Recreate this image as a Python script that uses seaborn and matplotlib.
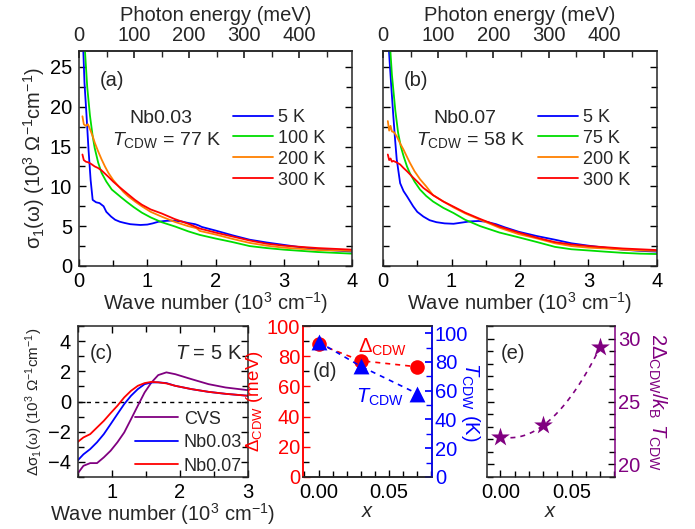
import numpy as np
import matplotlib
matplotlib.use("Agg")
import matplotlib.pyplot as plt
from matplotlib.ticker import MultipleLocator, FixedLocator
import seaborn as sns

# ---------------- data ----------------
# Panel (a): Nb0.03, sigma_1 (10^3 Ohm^-1 cm^-1) vs wave number (10^3 cm^-1)
a5_x = [0.05, 0.08, 0.11, 0.14, 0.17, 0.2, 0.25, 0.3, 0.36, 0.4, 0.47, 0.53, 0.6, 0.67, 0.75,
        0.82, 0.9, 1.0, 1.08, 1.16, 1.25, 1.35, 1.5, 1.6, 1.7, 1.75, 1.8, 2.0, 2.25, 2.5, 2.75,
        3.0, 3.25, 3.5, 3.75, 4.0]
a5_y = [30.0, 23.0, 18.9, 14.5, 10.8, 8.3, 8.0, 7.9, 7.5, 6.8, 6.2, 5.8, 5.55, 5.4, 5.25,
        5.2, 5.15, 5.2, 5.35, 5.55, 5.65, 5.7, 5.6, 5.4, 5.25, 5.1, 4.9, 4.45, 3.85, 3.3, 2.95,
        2.65, 2.35, 2.1, 1.95, 1.8]
a100_x = [0.08, 0.12, 0.16, 0.2, 0.23, 0.28, 0.33, 0.4, 0.48, 0.55, 0.62, 0.7, 0.8, 0.92, 1.05,
          1.21, 1.41, 1.6, 1.77, 2.0, 2.25, 2.5, 2.75, 3.0, 3.25, 3.5, 3.75, 4.0]
a100_y = [28.0, 22.5, 18.9, 16.3, 14.8, 13.0, 11.7, 10.6, 9.6, 9.1, 8.6, 8.05, 7.4, 6.7, 6.1,
          5.5, 4.95, 4.35, 3.9, 3.45, 3.0, 2.5, 2.25, 2.05, 1.9, 1.75, 1.65, 1.55]
a200_x = [0.05, 0.07, 0.1, 0.13, 0.16, 0.2, 0.23, 0.28, 0.33, 0.38, 0.43, 0.5, 0.58, 0.65, 0.72,
          0.82, 0.92, 1.05, 1.21, 1.4, 1.6, 1.72, 1.77, 2.0, 2.25, 2.5, 2.75, 3.0, 3.25, 3.5,
          3.75, 4.0]
a200_y = [18.8, 17.8, 17.6, 17.8, 17.2, 16.3, 15.5, 14.4, 13.4, 12.5, 11.7, 10.8, 10.0, 9.3, 8.75,
          8.1, 7.5, 6.8, 6.2, 5.55, 5.0, 4.75, 4.4, 3.95, 3.4, 2.9, 2.55, 2.3, 2.15, 2.0,
          1.95, 1.9]
a300_x = [0.05, 0.07, 0.1, 0.14, 0.18, 0.23, 0.28, 0.33, 0.38, 0.43, 0.5, 0.58, 0.65, 0.72, 0.82,
          0.92, 1.05, 1.21, 1.4, 1.6, 1.77, 2.0, 2.25, 2.5, 2.75, 3.0, 3.25, 3.5, 3.75, 4.0]
a300_y = [14.0, 13.3, 13.1, 13.0, 12.8, 12.5, 12.3, 12.0, 11.6, 11.2, 10.6, 10.0, 9.5, 9.0, 8.3,
          7.7, 7.1, 6.6, 5.9, 5.3, 4.7, 4.2, 3.7, 3.2, 2.8, 2.55, 2.4, 2.25, 2.15, 2.05]

# Panel (b): Nb0.07
b5_x = [0.08, 0.1, 0.125, 0.15, 0.175, 0.2, 0.25, 0.3, 0.35, 0.44, 0.5, 0.59, 0.68, 0.78, 0.9,
        1.03, 1.15, 1.27, 1.4, 1.51, 1.65, 1.78, 1.98, 2.25, 2.51, 2.75, 3.0, 3.24, 3.5, 3.75, 4.0]
b5_y = [28.0, 25.2, 22.0, 18.9, 16.0, 13.4, 10.4, 9.4, 8.75, 7.5, 6.8, 6.2, 5.75, 5.5, 5.35,
        5.3, 5.45, 5.6, 5.65, 5.55, 5.25, 4.85, 4.3, 3.75, 3.3, 2.85, 2.55, 2.3, 2.05, 1.9, 1.8]
b75_x = [0.1, 0.13, 0.15, 0.18, 0.22, 0.26, 0.3, 0.35, 0.39, 0.46, 0.54, 0.63, 0.73, 0.88, 1.03,
         1.2, 1.42, 1.7, 1.98, 2.25, 2.51, 2.75, 3.0, 3.24, 3.5, 3.75, 4.0]
b75_y = [28.0, 24.0, 22.2, 19.5, 16.75, 15.0, 13.8, 12.5, 11.7, 10.6, 9.6, 8.8, 8.1, 7.3, 6.65,
         5.8, 5.0, 4.2, 3.6, 3.0, 2.4, 2.1, 1.95, 1.8, 1.65, 1.55, 1.5]
b200_x = [0.07, 0.09, 0.11, 0.13, 0.16, 0.2, 0.25, 0.3, 0.35, 0.39, 0.46, 0.54, 0.63, 0.73, 0.88,
          1.03, 1.2, 1.42, 1.7, 1.98, 2.25, 2.51, 2.75, 3.0, 3.24, 3.5, 3.75, 4.0]
b200_y = [18.2, 17.0, 17.6, 16.9, 16.8, 16.3, 15.4, 14.6, 13.7, 13.0, 11.9, 10.9, 10.0, 8.9, 8.1,
          7.35, 6.6, 5.8, 4.8, 4.0, 3.45, 2.85, 2.5, 2.3, 2.2, 2.05, 1.95, 1.9]
b300_x = [0.07, 0.09, 0.11, 0.13, 0.15, 0.2, 0.25, 0.3, 0.35, 0.44, 0.5, 0.59, 0.73, 0.88, 1.03,
          1.2, 1.42, 1.7, 1.98, 2.25, 2.51, 2.75, 3.0, 3.24, 3.5, 3.75, 4.0]
b300_y = [14.0, 13.3, 13.5, 13.1, 13.2, 13.0, 12.75, 12.3, 11.9, 11.1, 10.6, 9.8, 8.9, 8.1, 7.45,
          6.7, 5.9, 4.95, 4.2, 3.55, 3.0, 2.7, 2.5, 2.36, 2.2, 2.1, 2.0]

# Panel (c): delta sigma_1 at 5 K
c_x = [0.49, 0.58, 0.68, 0.78, 0.88, 0.98, 1.08, 1.18, 1.28, 1.38, 1.48, 1.58, 1.68, 1.8, 1.93,
       2.17, 2.42, 2.67, 3.0]
c_cvs = [-4.8, -4.26, -4.08, -4.08, -3.7, -3.26, -2.7, -2.05, -1.17, -0.28, 0.6, 1.26, 1.75, 1.93,
         1.81, 1.48, 1.15, 0.93, 0.75]
c_nb03 = [-3.93, -3.5, -3.15, -2.7, -2.16, -1.5, -0.83, -0.17, 0.38, 0.82, 1.15, 1.26, 1.27, 1.22,
          1.04, 0.82, 0.64, 0.51, 0.38]
c_nb07 = [-2.7, -2.38, -2.16, -1.72, -1.28, -0.77, -0.28, 0.27, 0.71, 1.04, 1.22, 1.3, 1.27, 1.2,
          1.04, 0.82, 0.64, 0.51, 0.38]

# Panels (d), (e)
x_dope = [0.0, 0.03, 0.07]
gap_mev = [88.0, 77.0, 73.0]
tcdw_k = [94.0, 77.0, 58.0]
ratio = [22.2, 23.1, 29.3]

# ---------------- style ----------------
sns.set_theme(style="ticks")
plt.rcParams["font.family"] = ["Liberation Sans", "DejaVu Sans"]
plt.rcParams["mathtext.fontset"] = "custom"
plt.rcParams["mathtext.rm"] = "Liberation Sans"
plt.rcParams["mathtext.it"] = "Liberation Sans:italic"
plt.rcParams["mathtext.bf"] = "Liberation Sans:bold"
plt.rcParams["axes.linewidth"] = 1.1
FS = 14.5    # tick labels, axis labels
FL = 13      # legends / in-panel text

BLUE, GREEN, ORANGE, RED, PURPLE = "#0000ff", "#00dd00", "#ff8000", "#ff0000", "#800080"

fig = plt.figure(figsize=(6.95, 5.29), dpi=100)
ax_a = fig.add_axes([0.1137, 0.4972, 0.3928, 0.4064])
ax_b = fig.add_axes([0.5511, 0.4972, 0.3942, 0.4064])
ax_c = fig.add_axes([0.1122, 0.0983, 0.2446, 0.2854])
ax_d = fig.add_axes([0.4360, 0.0983, 0.1856, 0.2854])
ax_e = fig.add_axes([0.7007, 0.0983, 0.1842, 0.2854])


def cm2mev(x):
    return np.asarray(x) * 1000.0 / 8.0655


def mev2cm(e):
    return np.asarray(e) * 8.0655 / 1000.0


def style_ticks(ax, top=True, right=True):
    ax.tick_params(which="both", direction="in", top=top, right=right,
                   labelsize=FS, width=1.0, colors="black")
    ax.tick_params(which="major", length=5, pad=5)
    ax.tick_params(which="minor", length=4)
    ax.tick_params(axis="x", which="major", pad=4)


def right_label(ax, text, color, xpos):
    ax.set_ylabel(text, fontsize=FS, color=color)
    ax.yaxis.set_label_coords(xpos, 0.497)
    ax.yaxis.label.set_rotation(270)
    ax.yaxis.label.set_rotation_mode("default")
    ax.yaxis.label.set_horizontalalignment("center")
    ax.yaxis.label.set_verticalalignment("center")


def spectra_panel(ax, series, label, sample, tcdw, ylabels=True):
    for (xs, ys, c, lab) in series:
        sns.lineplot(x=xs, y=ys, ax=ax, color=c, lw=1.3, label=lab, sort=False)
    ax.set_xlim(0, 4)
    ax.set_ylim(0, 27)
    ax.xaxis.set_major_locator(MultipleLocator(1))
    ax.xaxis.set_minor_locator(MultipleLocator(0.5))
    ax.yaxis.set_major_locator(MultipleLocator(5))
    ax.yaxis.set_minor_locator(MultipleLocator(2.5))
    style_ticks(ax, top=False, right=True)
    if not ylabels:
        ax.tick_params(axis="y", labelleft=False)
    ax.set_xlabel(r"Wave number (10$^3$ cm$^{-1}$)", fontsize=FS, labelpad=0)
    sec = ax.secondary_xaxis("top", functions=(cm2mev, mev2cm))
    sec.set_xticks([0, 100, 200, 300, 400])
    sec.xaxis.set_minor_locator(MultipleLocator(50))
    sec.tick_params(which="both", direction="in", labelsize=FS, pad=4)
    sec.tick_params(which="major", length=5)
    sec.tick_params(which="minor", length=4)
    sec.set_xlabel("Photon energy (meV)", fontsize=FS, labelpad=4)
    leg = ax.legend(loc="upper left", bbox_to_anchor=(0.565, 0.731), frameon=False,
                    fontsize=FL, handlelength=2.2, handletextpad=0.3, labelspacing=0.22,
                    borderpad=0, borderaxespad=0)
    for l in leg.get_lines():
        l.set_linewidth(1.3)
    ax.text(0.12, 0.865, label, transform=ax.transAxes, fontsize=FS, ha="center", va="center")
    ax.text(0.30, 0.685, sample, transform=ax.transAxes, fontsize=FL + 1, ha="center", va="center")
    ax.text(0.32, 0.585, r"$\mathit{T}_{\mathrm{CDW}}$ = " + tcdw, transform=ax.transAxes,
            fontsize=FL + 1, ha="center", va="center")


spectra_panel(ax_a, [(a5_x, a5_y, BLUE, "5 K"), (a100_x, a100_y, GREEN, "100 K"),
                     (a200_x, a200_y, ORANGE, "200 K"), (a300_x, a300_y, RED, "300 K")],
              "(a)", "Nb0.03", "77 K", ylabels=True)
ax_a.set_ylabel("σ$_1$(ω) (10$^3$ Ω$^{-1}$cm$^{-1}$)", fontsize=FS, labelpad=2)
spectra_panel(ax_b, [(b5_x, b5_y, BLUE, "5 K"), (b75_x, b75_y, GREEN, "75 K"),
                     (b200_x, b200_y, ORANGE, "200 K"), (b300_x, b300_y, RED, "300 K")],
              "(b)", "Nb0.07", "58 K", ylabels=False)
ax_b.set_ylabel("")

# ---------------- panel (c) ----------------
ax_c.axhline(0, color="black", lw=1.0, ls=(0, (3, 3)))
sns.lineplot(x=c_x, y=c_cvs, ax=ax_c, color=PURPLE, lw=1.3, label="CVS", sort=False)
sns.lineplot(x=c_x, y=c_nb03, ax=ax_c, color=BLUE, lw=1.3, label="Nb0.03", sort=False)
sns.lineplot(x=c_x, y=c_nb07, ax=ax_c, color=RED, lw=1.3, label="Nb0.07", sort=False)
ax_c.set_xlim(0.5, 3)
ax_c.set_ylim(-5, 5)
ax_c.xaxis.set_major_locator(MultipleLocator(1))
ax_c.xaxis.set_minor_locator(MultipleLocator(0.5))
ax_c.yaxis.set_major_locator(FixedLocator([-4, -2, 0, 2, 4]))
ax_c.yaxis.set_minor_locator(MultipleLocator(1))
style_ticks(ax_c)
ax_c.set_xlabel(r"Wave number (10$^3$ cm$^{-1}$)", fontsize=FS, labelpad=0)
ax_c.set_ylabel("Δσ$_1$(ω) (10$^3$ Ω$^{-1}$cm$^{-1}$)", fontsize=11, labelpad=2)
leg = ax_c.legend(loc="upper left", bbox_to_anchor=(0.335, 0.44), frameon=False, fontsize=FL,
                  handlelength=2.4, handletextpad=0.3, labelspacing=0.36, borderpad=0,
                  borderaxespad=0)
ax_c.text(0.14, 0.82, "(c)", transform=ax_c.transAxes, fontsize=FS, ha="center", va="center")
ax_c.text(0.77, 0.82, r"$\mathit{T}$ = 5 K", transform=ax_c.transAxes, fontsize=FS,
          ha="center", va="center")

# ---------------- panel (d) ----------------
sns.lineplot(x=x_dope, y=gap_mev, ax=ax_d, color=RED, lw=1.2, ls=(0, (3, 3)), sort=False)
sns.scatterplot(x=x_dope, y=gap_mev, ax=ax_d, color=RED, s=110, marker="o", edgecolor=RED,
                linewidth=0, zorder=3)
ax_d.set_xlim(-0.011, 0.0805)
ax_d.set_ylim(0, 100)
ax_d.xaxis.set_major_locator(FixedLocator([0.0, 0.05]))
ax_d.xaxis.set_minor_locator(MultipleLocator(0.01))
ax_d.set_xticklabels(["0.00", "0.05"])
ax_d.yaxis.set_major_locator(MultipleLocator(20))
ax_d.yaxis.set_minor_locator(MultipleLocator(10))
style_ticks(ax_d, top=False, right=False)
ax_d.tick_params(axis="y", colors=RED, labelcolor=RED, pad=2)
ax_d.spines["left"].set_color(RED)
ax_d.set_xlabel(r"$\mathit{x}$", fontsize=FS, labelpad=0)
ax_d.set_ylabel(r"Δ$_{\mathrm{CDW}}$ (meV)", fontsize=13.5, color=RED, labelpad=1)
ax_d2 = ax_d.twinx()
sns.lineplot(x=x_dope, y=tcdw_k, ax=ax_d2, color=BLUE, lw=1.2, ls=(0, (3, 3)), sort=False)
sns.scatterplot(x=x_dope, y=tcdw_k, ax=ax_d2, color=BLUE, s=130, marker="^", edgecolor=BLUE,
                linewidth=0, zorder=3)
ax_d2.set_ylim(0, 105)
ax_d2.yaxis.set_major_locator(MultipleLocator(20))
ax_d2.yaxis.set_minor_locator(MultipleLocator(10))
ax_d2.tick_params(which="both", direction="in", labelsize=FS, colors=BLUE, labelcolor=BLUE,
                  pad=2)
ax_d2.tick_params(which="major", length=5)
ax_d2.tick_params(which="minor", length=4)
ax_d2.spines["right"].set_color(BLUE)
ax_d2.spines["left"].set_color(RED)
right_label(ax_d2, r"$\mathit{T}_{\mathrm{CDW}}$ (K)", BLUE, 1.30)
ax_d.text(0.17, 0.70, "(d)", transform=ax_d.transAxes, fontsize=FS, ha="center", va="center")
ax_d.text(0.62, 0.86, r"Δ$_{\mathrm{CDW}}$", transform=ax_d.transAxes, fontsize=FS, color=RED,
          ha="center", va="center")
ax_d.text(0.60, 0.53, r"$\mathit{T}_{\mathrm{CDW}}$", transform=ax_d.transAxes, fontsize=FS,
          color=BLUE, ha="center", va="center")

# ---------------- panel (e) ----------------
coef = np.polyfit(x_dope, ratio, 2)
xfit = np.linspace(x_dope[0], x_dope[-1], 60)
sns.lineplot(x=xfit, y=np.polyval(coef, xfit), ax=ax_e, color=PURPLE, lw=1.2, ls=(0, (3, 3)),
             sort=False)
sns.scatterplot(x=x_dope, y=ratio, ax=ax_e, color=PURPLE, s=200, marker="*", edgecolor=PURPLE,
                linewidth=0, zorder=3)
ax_e.set_xlim(-0.0095, 0.0805)
ax_e.set_ylim(19, 31)
ax_e.xaxis.set_major_locator(FixedLocator([0.0, 0.05]))
ax_e.xaxis.set_minor_locator(MultipleLocator(0.01))
ax_e.set_xticklabels(["0.00", "0.05"])
ax_e.yaxis.set_major_locator(MultipleLocator(5))
ax_e.yaxis.set_minor_locator(MultipleLocator(1))
style_ticks(ax_e, top=False, right=True)
ax_e.tick_params(axis="y", labelleft=False, labelright=True, labelcolor=PURPLE, pad=2)
ax_e.tick_params(axis="y", which="both", right=True)
ax_e.spines["right"].set_color(PURPLE)
ax_e.yaxis.set_label_position("right")
right_label(ax_e, r"2Δ$_{\mathrm{CDW}}$/$\mathit{k}_{\mathrm{B}}$ $\mathit{T}_{\mathrm{CDW}}$",
            PURPLE, 1.33)
ax_e.set_xlabel(r"$\mathit{x}$", fontsize=FS, labelpad=0)
ax_e.text(0.2, 0.82, "(e)", transform=ax_e.transAxes, fontsize=FS, ha="center", va="center")

fig.savefig("out.png", dpi=100)
